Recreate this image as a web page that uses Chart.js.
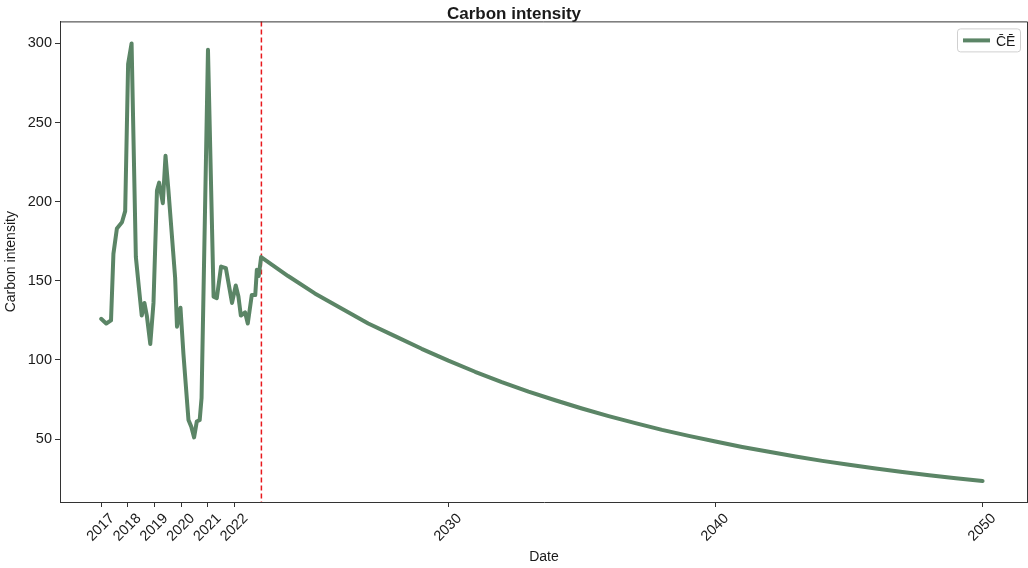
<!DOCTYPE html>
<html>
<head>
<meta charset="utf-8">
<script src="https://cdn.jsdelivr.net/npm/chart.js@4.4.1/dist/chart.umd.min.js"></script>
<style>
  html, body { margin: 0; padding: 0; background: #ffffff; }
  #wrap { width: 1028px; height: 568px; position: relative; }
</style>
</head>
<body>
<div id="wrap"><canvas id="c" width="1028" height="568"></canvas></div>
<script>
const histYears = [2017.00, 2017.19, 2017.37, 2017.46, 2017.59, 2017.78, 2017.90, 2018.01, 2018.14, 2018.30,
  2018.40, 2018.52, 2018.62, 2018.71, 2018.84, 2018.96, 2019.09, 2019.17, 2019.31, 2019.41,
  2019.52, 2019.77, 2019.84, 2019.97, 2020.08, 2020.27, 2020.37, 2020.48, 2020.58, 2020.69,
  2020.76, 2021.00, 2021.21, 2021.33, 2021.49, 2021.67, 2021.90, 2022.04, 2022.14, 2022.23,
  2022.39, 2022.49, 2022.64, 2022.77, 2022.83, 2022.90, 2022.99];
const histValues = [126, 123, 125, 167, 183, 187, 194, 287, 300, 165,
  148, 128, 136, 128, 110, 136, 207, 212, 199, 229,
  207, 152, 121, 133, 104, 62, 58, 51, 61, 62,
  76, 296, 140, 139, 159, 158, 136, 147, 140, 128,
  130, 123, 141, 141, 157, 153, 165];
const projYears = [2023, 2024, 2025, 2026, 2027, 2028, 2029, 2030, 2031, 2032,
  2033, 2034, 2035, 2036, 2037, 2038, 2039, 2040, 2041, 2042,
  2043, 2044, 2045, 2046, 2047, 2048, 2049, 2050];
const projValues = [165, 153, 142, 132.5, 123, 115, 107, 99.5, 92.5, 86,
  80, 74.5, 69.3, 64.5, 60, 55.8, 52, 48.4, 45, 41.9,
  39, 36.2, 33.7, 31.4, 29.2, 27.1, 25.2, 23.5];
const xTicks = [2017, 2018, 2019, 2020, 2021, 2022, 2030, 2040, 2050];
const yTicks = [50, 100, 150, 200, 250, 300];
const splitYear = 2023;
const seriesLabel = 'C\u0304E\u0304';

const points = [];
histYears.forEach((x, i) => points.push({x: x, y: histValues[i]}));
projYears.forEach((x, i) => { if (x > histYears[histYears.length - 1]) points.push({x: x, y: projValues[i]}); });

const FONT = '"Liberation Sans", Arial, sans-serif';
const LINE_COLOR = '#5b8566';
const TEXT = '#1a1a1a';

const framePlugin = {
  id: 'frame',
  beforeDatasetsDraw(chart) {
    const {ctx, chartArea: a, scales} = chart;
    const xp = scales.x.getPixelForValue(splitYear);
    ctx.save();
    ctx.strokeStyle = '#e8191d';
    ctx.lineWidth = 1.5;
    ctx.setLineDash([5, 3]);
    ctx.beginPath();
    ctx.moveTo(xp, a.top);
    ctx.lineTo(xp, a.bottom);
    ctx.stroke();
    ctx.restore();
  },
  afterDraw(chart) {
    const {ctx, chartArea: a} = chart;
    ctx.save();
    ctx.strokeStyle = '#333333';
    ctx.lineWidth = 1;
    ctx.beginPath();
    ctx.moveTo(a.left, a.top + 0.5);
    ctx.lineTo(a.right - 0.5, a.top + 0.5);
    ctx.lineTo(a.right - 0.5, a.bottom);
    ctx.stroke();
    // legend
    const bx = a.right - 71, by = a.top + 7, bw = 63, bh = 23;
    ctx.fillStyle = 'rgba(255,255,255,0.8)';
    ctx.strokeStyle = '#d0d0d0';
    ctx.lineWidth = 1;
    ctx.beginPath();
    if (ctx.roundRect) ctx.roundRect(bx + 0.5, by + 0.5, bw, bh, 3); else ctx.rect(bx + 0.5, by + 0.5, bw, bh);
    ctx.fill();
    ctx.stroke();
    ctx.strokeStyle = LINE_COLOR;
    ctx.lineWidth = 4;
    ctx.beginPath();
    ctx.moveTo(bx + 6, by + 12);
    ctx.lineTo(bx + 33, by + 12);
    ctx.stroke();
    ctx.fillStyle = TEXT;
    ctx.font = '14px ' + FONT;
    ctx.textBaseline = 'middle';
    ctx.textAlign = 'left';
    ctx.fillText(chart.data.datasets[0].label, bx + 39, by + 14);
    ctx.restore();
  }
};

new Chart(document.getElementById('c'), {
  type: 'line',
  data: {
    datasets: [{
      label: seriesLabel,
      data: points,
      borderColor: LINE_COLOR,
      backgroundColor: LINE_COLOR,
      borderWidth: 4,
      pointRadius: 0,
      tension: 0,
      fill: false,
      borderJoinStyle: 'round',
      borderCapStyle: 'round'
    }]
  },
  options: {
    responsive: false,
    animation: false,
    devicePixelRatio: 1,
    layout: { padding: { left: 0, right: 0, top: 0, bottom: 0 } },
    plugins: {
      legend: { display: false },
      tooltip: { enabled: false },
      title: {
        display: true,
        text: 'Carbon intensity',
        color: TEXT,
        font: { family: FONT, size: 17, weight: 'bold', lineHeight: 1.2 },
        padding: { top: 4, bottom: -3 }
      }
    },
    scales: {
      x: {
        type: 'linear',
        min: 2015.46,
        max: 2051.7,
        afterBuildTicks(s) { s.ticks = xTicks.map(v => ({value: v})); },
        afterFit(s) { s.height = 66; },
        ticks: {
          color: TEXT,
          font: { family: FONT, size: 14.5 },
          maxRotation: 45,
          minRotation: 45,
          autoSkip: false,
          padding: 3,
          labelOffset: 11,
          callback: v => String(v)
        },
        grid: { drawOnChartArea: false, drawTicks: true, tickLength: 5, color: '#333333' },
        border: { display: true, color: '#333333', width: 1 },
        title: {
          display: true,
          text: 'Date',
          color: TEXT,
          font: { family: FONT, size: 14 },
          padding: { top: 0, bottom: 2 }
        }
      },
      y: {
        type: 'linear',
        min: 10.2,
        max: 313.9,
        afterBuildTicks(s) { s.ticks = yTicks.map(v => ({value: v})); },
        afterFit(s) { s.width = 60; },
        ticks: {
          color: TEXT,
          font: { family: FONT, size: 14.5 },
          padding: 3,
          callback: v => String(v)
        },
        grid: { drawOnChartArea: false, drawTicks: true, tickLength: 5, color: '#333333' },
        border: { display: true, color: '#333333', width: 1 },
        title: {
          display: true,
          text: 'Carbon intensity',
          color: TEXT,
          font: { family: FONT, size: 14 },
          padding: { top: 3, bottom: 0 }
        }
      }
    }
  },
  plugins: [framePlugin]
});
</script>
</body>
</html>
